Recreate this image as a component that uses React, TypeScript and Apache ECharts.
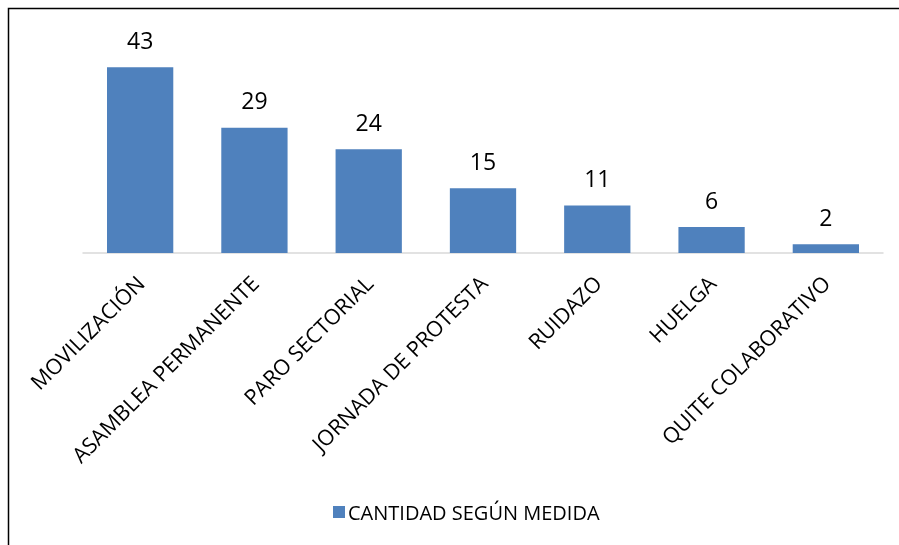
import React, { useEffect, useRef } from "react";
import * as echarts from "echarts";

const categories = [
  "MOVILIZACIÓN",
  "ASAMBLEA PERMANENTE",
  "PARO SECTORIAL",
  "JORNADA DE PROTESTA",
  "RUIDAZO",
  "HUELGA",
  "QUITE COLABORATIVO",
];
const values = [43, 29, 24, 15, 11, 6, 2];
const seriesName = "CANTIDAD SEGÚN MEDIDA";

export default function App() {
  const ref = useRef<HTMLDivElement>(null);
  useEffect(() => {
    if (!ref.current) return;
    const chart = echarts.init(ref.current, null, { renderer: "svg" });
    const font = "'Open Sans', 'Noto Sans', sans-serif";
    chart.setOption({
      animation: false,
      textStyle: { fontFamily: font },
      graphic: [
        {
          type: "rect",
          shape: { x: 8.5, y: 8.5, width: 1000, height: 1000 },
          style: { fill: "none", stroke: "#000", lineWidth: 1.5 },
          silent: true,
        },
      ],
      grid: { left: 83, right: 16, top: 37, height: 216, containLabel: false },
      legend: {
        bottom: 18,
        left: 328,
        itemWidth: 12,
        itemHeight: 12,
        icon: "rect",
        itemGap: 4,
        textStyle: { fontSize: 20, color: "#000", fontFamily: font, padding: [0, 0, 0, -2] },
        data: [seriesName],
      },
      xAxis: {
        type: "category",
        data: categories,
        axisLine: { lineStyle: { color: "#D9D9D9", width: 1.5 } },
        axisTick: { show: false },
        axisLabel: {
          rotate: 45,
          interval: 0,
          color: "#000",
          fontSize: 21.5,
          margin: 26,
          fontFamily: font,
        },
      },
      yAxis: {
        type: "value",
        min: 0,
        max: 50,
        show: false,
        splitLine: { show: false },
      },
      series: [
        {
          name: seriesName,
          type: "bar",
          data: values,
          barCategoryGap: "42%",
          itemStyle: { color: "#4F81BD" },
          label: {
            show: true,
            position: "top",
            distance: 16,
            color: "#000",
            fontSize: 23,
            fontFamily: font,
          },
        },
      ],
    });
    return () => chart.dispose();
  }, []);
  return (
    <div
      ref={ref}
      style={{ position: "fixed", left: 0, top: 0, width: 899, height: 545 }}
    />
  );
}
